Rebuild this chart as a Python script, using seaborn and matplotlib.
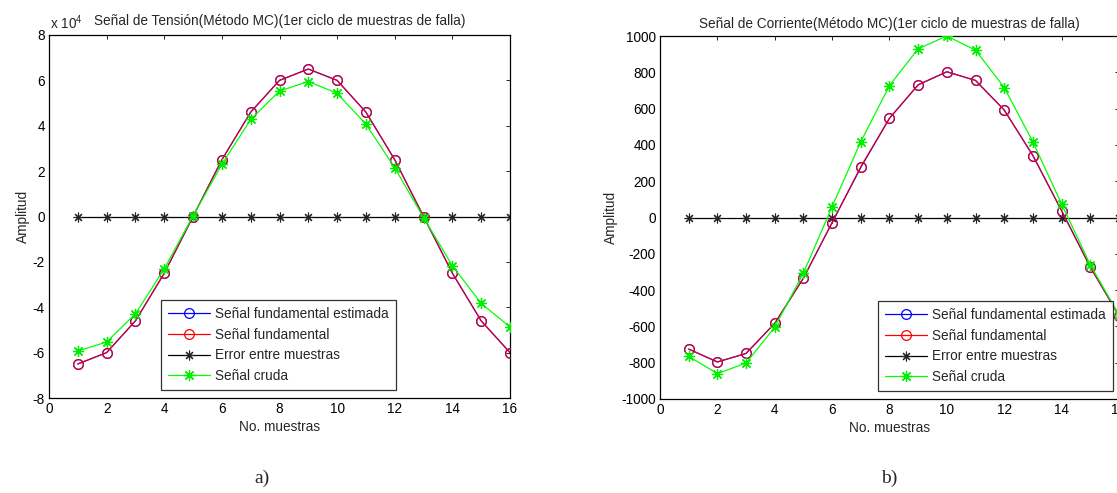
import numpy as np
import pandas as pd
import matplotlib
matplotlib.use("Agg")
import matplotlib.pyplot as plt
import seaborn as sns
from matplotlib.ticker import FuncFormatter, MultipleLocator

# ---------------- data ----------------
muestras = list(range(1, 17))

# a) Voltage (values in volts)
v_fund = [-65000, -60000, -46000, -25000, 0, 25000, 46000, 60000,
          65000, 60000, 46000, 25000, 0, -25000, -46000, -60000]
v_est = [-65000, -60000, -46000, -25000, 0, 25000, 46000, 60000,
         65000, 60000, 46000, 25000, 0, -25000, -46000, -60000]
v_err = [0] * 16
v_raw = [-59300, -55300, -42900, -23100, 300, 23000, 42800, 55300,
         59500, 54300, 40700, 21500, -500, -21700, -38300, -48700]

# b) Current (values in amperes)
i_fund = [-725, -796, -749, -583, -334, -28, 280, 547,
          731, 803, 755, 592, 341, 37, -273, -541]
i_est = [-725, -796, -749, -583, -334, -28, 276, 547,
         731, 803, 755, 592, 341, 37, -273, -541]
i_err = [0] * 16
i_raw = [-765, -860, -802, -604, -306, 60, 418, 727,
         930, 1000, 922, 716, 416, 74, -261, -537]

labels = ["Señal fundamental estimada", "Señal fundamental",
          "Error entre muestras", "Señal cruda"]
titles = ["Señal de Tensión(Método MC)(1er ciclo de muestras de falla)",
          "Señal de Corriente(Método MC)(1er ciclo de muestras de falla)"]

# ---------------- style ----------------
sns.set_style("white")
plt.rcParams["font.family"] = ["Liberation Sans", "DejaVu Sans"]
plt.rcParams["mathtext.default"] = "regular"
plt.rcParams["axes.unicode_minus"] = False

FS = 9.8
fig = plt.figure(figsize=(11.17, 4.93), dpi=100)
W, H = 1117, 493
def pos(x0, x1, ytop, ybot):
    return [x0 / W, 1 - ybot / H, (x1 - x0) / W, (ybot - ytop) / H]

axL = fig.add_axes(pos(49, 510, 35, 398))
axR = fig.add_axes(pos(660, 1119, 36, 399))

AST = (8, 2, 0)  # MATLAB-like asterisk marker

def draw(ax, est, fund, err, raw):
    x = muestras
    sns.lineplot(x=x, y=est, ax=ax, color="#0000ff", lw=0.9, marker="o",
                 markersize=7, markerfacecolor="none", markeredgecolor="#0000ff",
                 markeredgewidth=0.9, label=labels[0], zorder=3)
    sns.lineplot(x=x, y=fund, ax=ax, color="#ff0000", lw=0.9, marker="o",
                 markersize=7, markerfacecolor="none", markeredgecolor="#ff0000",
                 markeredgewidth=0.9, alpha=0.82, label=labels[1], zorder=4)
    sns.lineplot(x=x, y=err, ax=ax, color="black", lw=0.9, marker=AST,
                 markersize=7, markeredgecolor="#222222", markeredgewidth=0.8,
                 label=labels[2], zorder=2)
    sns.lineplot(x=x, y=raw, ax=ax, color="#00ff00", lw=0.9, marker=AST,
                 markersize=8, markeredgecolor="#00ee00", markeredgewidth=0.9,
                 label=labels[3], zorder=5)
    ax.set_xlim(0, 16)
    ax.xaxis.set_major_locator(MultipleLocator(2))
    ax.tick_params(direction="in", length=3, width=0.6, top=True, right=True,
                   labelsize=FS, pad=3, colors="black")
    for s in ax.spines.values():
        s.set_visible(True)
        s.set_color("black")
        s.set_linewidth(0.9)
    ax.set_xlabel("No. muestras", fontsize=FS, labelpad=3)
    ax.set_ylabel("Amplitud", fontsize=FS, labelpad=2)

draw(axL, v_est, v_fund, v_err, v_raw)
draw(axR, i_est, i_fund, i_err, i_raw)

axL.set_ylim(-80000, 80000)
axL.yaxis.set_major_locator(MultipleLocator(20000))
axL.yaxis.set_major_formatter(FuncFormatter(lambda v, p: f"{v/1e4:g}"))
axR.set_ylim(-1000, 1000)
axR.yaxis.set_major_locator(MultipleLocator(200))

axL.set_title(titles[0], fontsize=FS, pad=7)
axR.set_title(titles[1], fontsize=FS, pad=6)
fig.text(50 / W, 1 - 29 / H, r"x 10$^{4}$", fontsize=FS, ha="left", va="baseline")

def legend(ax, xfrac, yfrac):
    lg = ax.legend(loc="upper left", bbox_to_anchor=(xfrac, yfrac), fontsize=FS,
                   frameon=True, fancybox=False, edgecolor="black",
                   handlelength=3.1, handletextpad=0.4, borderpad=0.5,
                   labelspacing=0.5, borderaxespad=0)
    lg.get_frame().set_linewidth(0.9)
    for h in lg.legend_handles:
        h.set_alpha(1)
    return lg

legend(axL, (161 - 49) / 461, (398 - 300) / 363)
legend(axR, (878 - 660) / 459, (399 - 301) / 363)

fig.text(262 / W, 1 - 478 / H, "a)", fontsize=14, family="Liberation Serif",
         ha="center", va="center")
fig.text(889 / W, 1 - 478 / H, "b)", fontsize=14, family="Liberation Serif",
         ha="center", va="center")

fig.savefig("out.png", dpi=100, facecolor="white")
